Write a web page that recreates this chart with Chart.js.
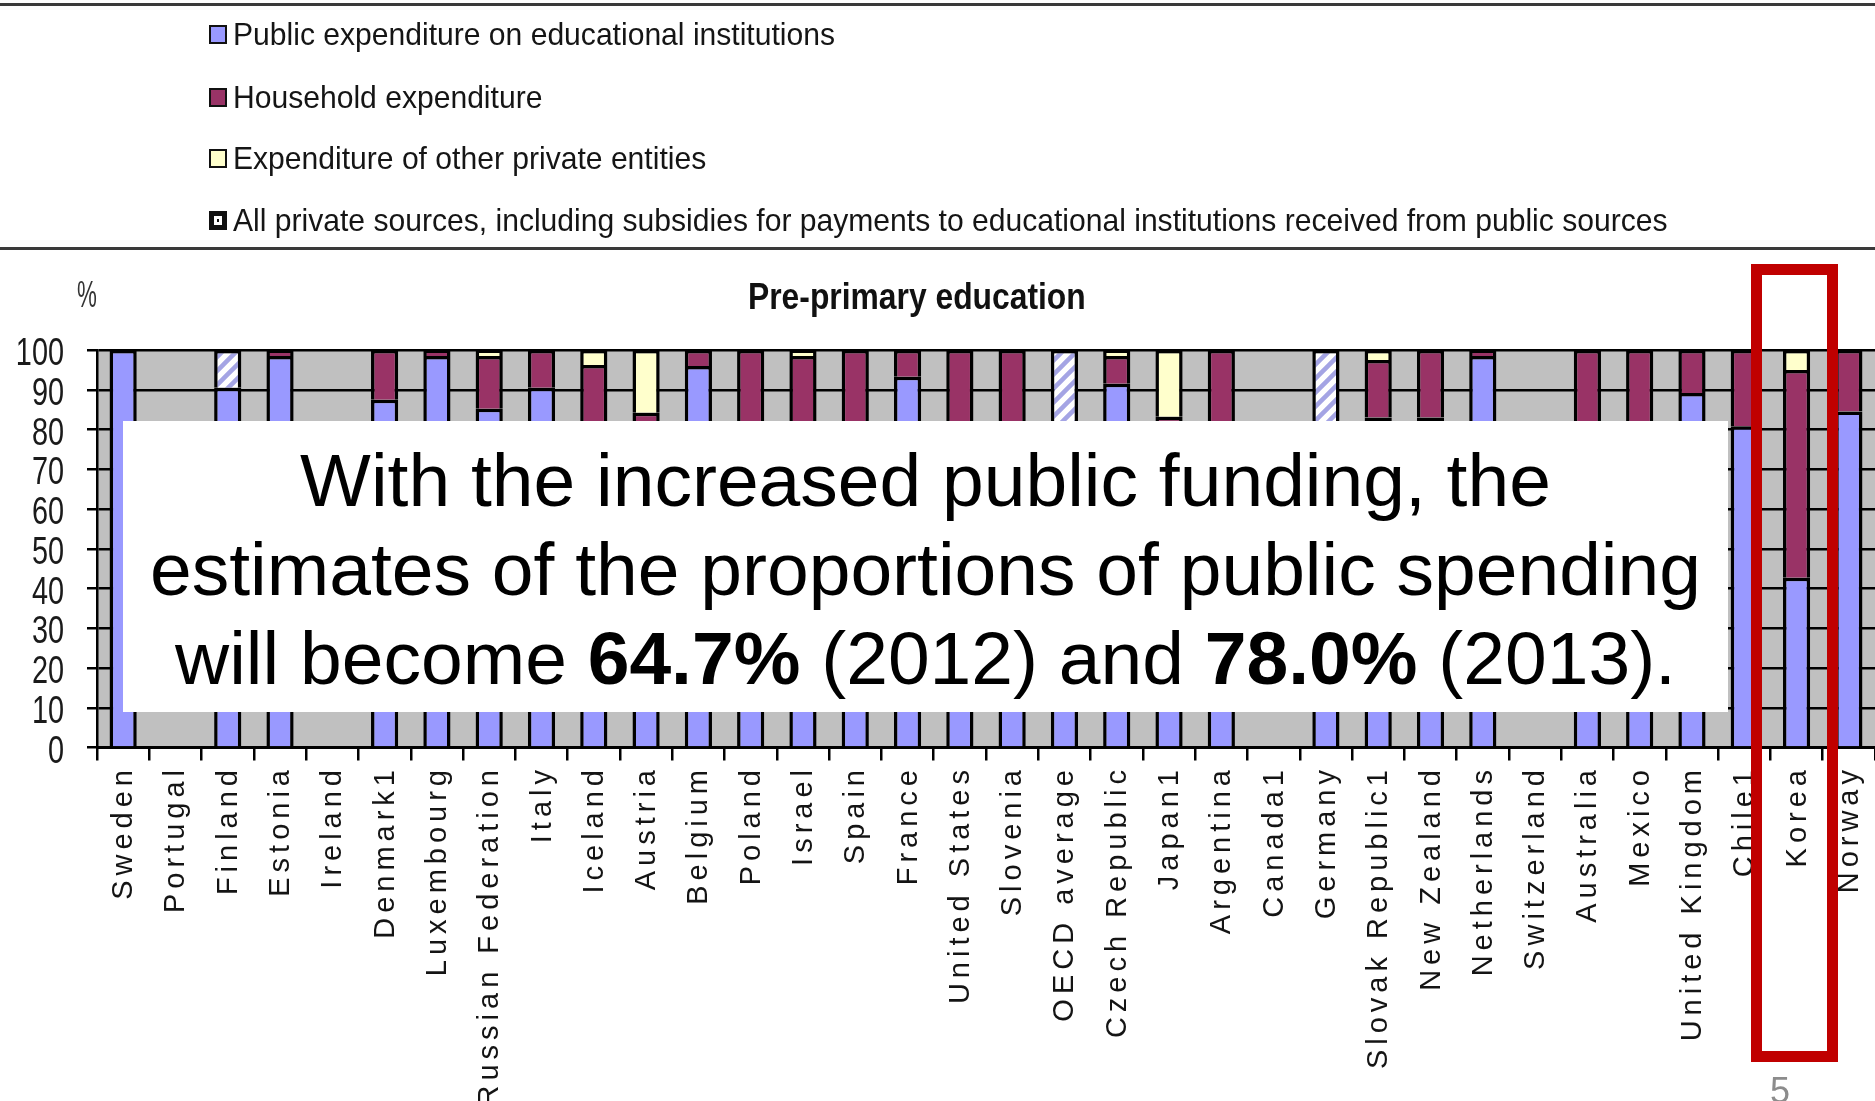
<!DOCTYPE html>
<html>
<head>
<meta charset="utf-8">
<script src="https://cdn.jsdelivr.net/npm/chart.js@4.4.1/dist/chart.umd.min.js"></script>
<style>
  html, body { margin: 0; padding: 0; background: #fff; width: 1875px; height: 1101px; overflow: hidden;
    font-family: "Liberation Sans", Arial, sans-serif; }
  #chart { position: absolute; left: 0; top: 0; }
  .rule { position: absolute; left: 0; width: 1875px; height: 3px; background: #3a3a3a; }
  .legrow { position: absolute; left: 209px; height: 40px; display: flex; align-items: center; white-space: nowrap; }
  .sw { width: 14px; height: 15px; border: 2.5px solid #111; margin-right: 6px; flex: none; }
  .lt { font-size: 32px; line-height: 40px; color: #151515; display: inline-block;
    transform: scaleX(0.94); transform-origin: left center; }
  #pct { position: absolute; left: 77px; top: 277px; font-size: 36px; line-height: 36px; color: #333;
    transform: scaleX(0.62); transform-origin: left center; }
  #title { position: absolute; left: 748px; top: 278px; font-size: 37px; line-height: 37px; font-weight: bold;
    color: #111; white-space: nowrap; transform: scaleX(0.86); transform-origin: left center; }
  #note { position: absolute; left: 123px; top: 421px; width: 1605px; height: 291px; background: #fff;
    text-align: center; font-size: 75px; line-height: 89px; color: #000; padding-top: 15px; box-sizing: border-box; }
  #korea { position: absolute; left: 1751px; top: 264px; width: 87px; height: 798px; border: 11px solid #c00000;
    box-sizing: border-box; }
  #page { position: absolute; left: 1770px; top: 1073px; font-size: 36px; line-height: 36px; color: #8c8c8c; }
</style>
</head>
<body>
<canvas id="chart" width="1875" height="1101"></canvas>

<div class="rule" style="top:3px"></div>
<div class="rule" style="top:247px"></div>
<div class="legrow" style="top:14px"><span class="sw" style="background:#9999ff"></span><span class="lt">Public expenditure on educational institutions</span></div>
<div class="legrow" style="top:77px"><span class="sw" style="background:#993366"></span><span class="lt">Household expenditure</span></div>
<div class="legrow" style="top:138px"><span class="sw" style="background:#ffffcc"></span><span class="lt">Expenditure of other private entities</span></div>
<div class="legrow" style="top:200px"><span class="sw" style="background:#111;box-shadow:inset 0 0 0 3px #111,inset 0 0 0 6px #fff"></span><span class="lt">All private sources, including subsidies for payments to educational institutions received from public sources</span></div>

<div id="pct">%</div>
<div id="title">Pre-primary education</div>

<div id="note">With the increased public funding, the<br>estimates of the proportions of public spending<br>will become <b>64.7%</b> (2012) and <b>78.0%</b> (2013).</div>
<div id="korea"></div>
<div id="page">5</div>

<script>
const countries = ["Sweden", "Portugal", "Finland", "Estonia", "Ireland", "Denmark1", "Luxembourg",
  "Russian Federation", "Italy", "Iceland", "Austria", "Belgium", "Poland", "Israel", "Spain", "France",
  "United States", "Slovenia", "OECD average", "Czech Republic", "Japan1", "Argentina", "Canada1", "Germany",
  "Slovak Republic1", "New Zealand", "Netherlands", "Switzerland", "Australia", "Mexico", "United Kingdom",
  "Chile1", "Korea", "Norway"];

const publicExp = [100, null, 90.5, 98.5, null, 87.5, 98.5, 85.2, 90.5, 74, 69, 96, 78, 78, 74, 93.3,
  78, 79, 82.1, 91.5, 43.5, 73, null, 72.5, 83, 83, 98.5, null, 56, 80, 89.2, 80.8, 42.7, 84.5];

const householdExp = [null, null, null, 1.5, null, 12.5, 1.5, 13.3, 9.5, 22.2, 15.2, 4, 22, 20.5, 26, 6.7,
  22, 21, null, 7, 39.7, 27, null, null, 14.5, 17, 1.5, null, 44, 20, 10.8, 19.2, 52.3, 15.5];

const otherPrivate = [null, null, null, null, null, null, null, 1.5, null, 3.8, 15.8, null, null, 1.5, null, null,
  null, null, null, 1.5, 16.8, null, null, null, 2.5, null, null, null, null, null, null, null, 5, null];

const allPrivate = [null, null, 9.5, null, null, null, null, null, null, null, null, null, null, null, null, null,
  null, null, 17.9, null, null, null, null, 27.5, null, null, null, null, null, null, null, null, null, null];

const yTicks = [0, 10, 20, 30, 40, 50, 60, 70, 80, 90, 100];

// diagonal hatch used by Excel for "all private sources"
function makeHatch() {
  const c = document.createElement("canvas");
  c.width = 14;
  c.height = 14;
  const g = c.getContext("2d");
  g.fillStyle = "#ffffff";
  g.fillRect(0, 0, 14, 14);
  g.strokeStyle = "#a4a4e4";
  g.lineWidth = 4.5;
  g.beginPath();
  g.moveTo(-4, 18); g.lineTo(18, -4);
  g.moveTo(-4, 4); g.lineTo(4, -4);
  g.moveTo(10, 18); g.lineTo(18, 10);
  g.stroke();
  return g.createPattern(c, "repeat");
}

const plotBg = {
  id: "plotBg",
  beforeDraw(chart) {
    const { ctx, chartArea } = chart;
    ctx.save();
    ctx.fillStyle = "#c0c0c0";
    ctx.fillRect(chartArea.left, chartArea.top, chartArea.right - chartArea.left, chartArea.bottom - chartArea.top);
    ctx.restore();
  }
};

// tick labels drawn by hand: narrow y digits, spaced-out rotated country names
const axisText = {
  id: "axisText",
  afterDraw(chart) {
    const { ctx } = chart;
    const x = chart.scales.x;
    const y = chart.scales.y;
    ctx.save();
    ctx.fillStyle = "#1a1a1a";
    ctx.font = '39px "Liberation Sans", Arial, sans-serif';
    ctx.textAlign = "right";
    ctx.textBaseline = "alphabetic";
    yTicks.forEach(v => {
      ctx.save();
      ctx.translate(64, y.getPixelForValue(v) + 15);
      ctx.scale(0.74, 1);
      ctx.fillText(String(v), 0, 0);
      ctx.restore();
    });
    ctx.font = '29px "Liberation Sans", Arial, sans-serif';
    ctx.fillStyle = "#141414";
    ctx.letterSpacing = "5px";
    ctx.textBaseline = "middle";
    countries.forEach((c, i) => {
      ctx.save();
      ctx.translate(x.getPixelForValue(i) + 1, 765);
      ctx.rotate(-Math.PI / 2);
      ctx.fillText(c, 0, 0);
      ctx.restore();
    });
    ctx.restore();
  }
};

const barStyle = {
  borderColor: "#000000",
  borderWidth: 3.5,
  barPercentage: 0.52,
  categoryPercentage: 1
};

new Chart(document.getElementById("chart"), {
  type: "bar",
  data: {
    labels: countries,
    datasets: [
      { label: "Public expenditure on educational institutions", data: publicExp, backgroundColor: "#9999ff", ...barStyle },
      { label: "Household expenditure", data: householdExp, backgroundColor: "#993366", ...barStyle },
      { label: "Expenditure of other private entities", data: otherPrivate, backgroundColor: "#ffffcc", ...barStyle },
      { label: "All private sources, including subsidies for payments to educational institutions received from public sources",
        data: allPrivate, backgroundColor: makeHatch(), ...barStyle }
    ]
  },
  options: {
    responsive: false,
    animation: false,
    layout: { padding: { top: 350, left: 0, right: 0, bottom: 0 } },
    plugins: {
      legend: { display: false },
      tooltip: { enabled: false },
      title: { display: false }
    },
    scales: {
      x: {
        stacked: true,
        offset: true,
        ticks: { display: false },
        grid: { drawOnChartArea: false, drawTicks: true, tickLength: 13, color: "#000", lineWidth: 2.5, offset: true },
        border: { display: true, color: "#000", width: 3 },
        afterFit(s) { s.height = 353.5; }
      },
      y: {
        stacked: true,
        min: 0,
        max: 100,
        ticks: { display: false, stepSize: 10 },
        grid: { color: "#000", lineWidth: 2.5, drawTicks: true, tickLength: 10 },
        border: { display: true, color: "#000", width: 2.5 },
        afterFit(s) { s.width = 97; }
      }
    }
  },
  plugins: [plotBg, axisText]
});
</script>
</body>
</html>
